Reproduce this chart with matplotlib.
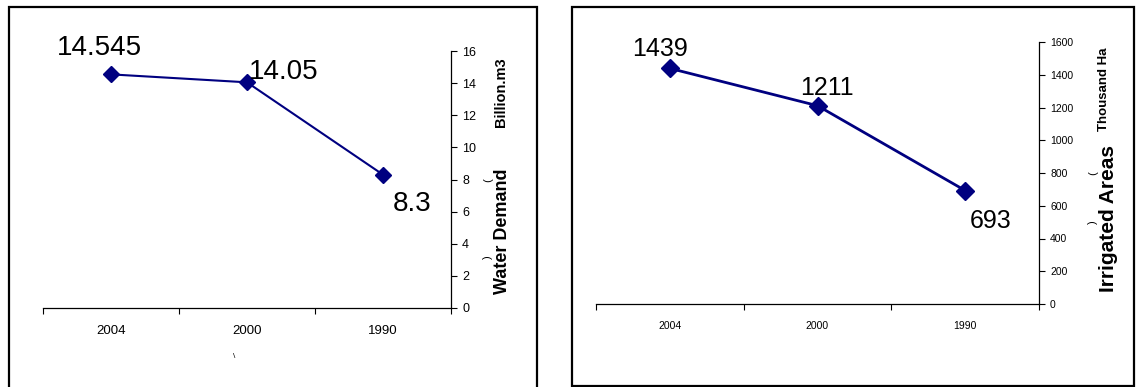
import matplotlib
matplotlib.use("Agg")
import matplotlib.pyplot as plt
from matplotlib.patches import Rectangle

plt.rcParams['font.family'] = ['Liberation Sans', 'DejaVu Sans']

years = ["2004", "2000", "1990"]
water_demand = [14.545, 14.05, 8.3]
irrigated_areas = [1439, 1211, 693]
water_labels = ["14.545", "14.05", "8.3"]
area_labels = ["1439", "1211", "693"]

W, H = 1138, 387
fig = plt.figure(figsize=(W / 100, H / 100), dpi=100)


def px_axes(x0, y0, x1, y1):
    # pixel box (top-left origin) -> figure axes
    return fig.add_axes([x0 / W, (H - y1) / H, (x1 - x0) / W, (y1 - y0) / H])


def box(x0, y0, x1, y1):
    fig.patches.append(Rectangle((x0 / W, (H - y1) / H), (x1 - x0) / W, (y1 - y0) / H,
                                 transform=fig.transFigure, fill=False,
                                 edgecolor="black", linewidth=1.6))


def style_axes(ax, ymax, ystep, tick_fs, xlab_fs, xpad):
    n = len(years)
    ax.set_xlim(-0.5, n - 0.5)
    ax.set_ylim(0, ymax)
    ax.set_xticks(range(n))
    ax.set_xticklabels(years, fontsize=xlab_fs)
    ax.set_xticks([i - 0.5 for i in range(n + 1)], minor=True)
    ax.tick_params(axis="x", which="major", length=0, pad=xpad)
    ax.tick_params(axis="x", which="minor", length=4, width=0.8, direction="out")
    ax.set_yticks(range(0, ymax + 1, ystep))
    ax.yaxis.tick_right()
    ax.tick_params(axis="y", labelsize=tick_fs, length=4, width=0.8, pad=4)
    for s in ("left", "top"):
        ax.spines[s].set_visible(False)
    ax.spines["right"].set_linewidth(0.9)
    ax.spines["bottom"].set_linewidth(0.9)


# ---- left panel: water demand
box(9, 7, 537, 400)
ax1 = px_axes(43, 51, 451, 308)
ax1.plot(range(len(years)), water_demand, color="#000080", lw=1.5,
         marker="D", ms=8, mfc="#000080", mec="#000080")
style_axes(ax1, 16, 2, 9, 9.5, 12)
offs1 = [(-12, 26), (37, 10), (29, -29)]
for i, (v, t) in enumerate(zip(water_demand, water_labels)):
    ax1.annotate(t, (i, v), xytext=offs1[i], textcoords="offset pixels",
                 ha="center", va="center", fontsize=20)
fig.text(503 / W, 1 - 231 / H, "Water Demand", rotation=90, fontsize=13,
         fontweight="bold", ha="center", va="center")
fig.text(501 / W, 1 - 92 / H, "Billion.m3", rotation=90, fontsize=10.5,
         fontweight="bold", ha="center", va="center")
fig.text(488 / W, 1 - 180 / H, "(", rotation=90, fontsize=8, ha="center", va="center")
fig.text(488 / W, 1 - 257 / H, ")", rotation=90, fontsize=8, ha="center", va="center")
fig.text(234 / W, 1 - 357 / H, "\\", fontsize=6, ha="center", va="center")

# ---- right panel: irrigated areas
box(572, 7, 1134, 386)
ax2 = px_axes(596, 42, 1039, 304)
ax2.plot(range(len(years)), irrigated_areas, color="#000080", lw=2,
         marker="D", ms=9, mfc="#000080", mec="#000080")
style_axes(ax2, 1600, 200, 7.5, 7.5, 12)
offs2 = [(-10, 19), (9, 18), (25, -30)]
for i, (v, t) in enumerate(zip(irrigated_areas, area_labels)):
    ax2.annotate(t, (i, v), xytext=offs2[i], textcoords="offset pixels",
                 ha="center", va="center", fontsize=18)
fig.text(1108 / W, 1 - 218 / H, "Irrigated Areas", rotation=90, fontsize=15,
         fontweight="bold", ha="center", va="center")
fig.text(1104 / W, 1 - 89 / H, "Thousand Ha", rotation=90, fontsize=9.5,
         fontweight="bold", ha="center", va="center")
fig.text(1093 / W, 1 - 173 / H, "(", rotation=90, fontsize=8, ha="center", va="center")
fig.text(1093 / W, 1 - 222 / H, ")", rotation=90, fontsize=8, ha="center", va="center")

fig.savefig("out.png", dpi=100)
